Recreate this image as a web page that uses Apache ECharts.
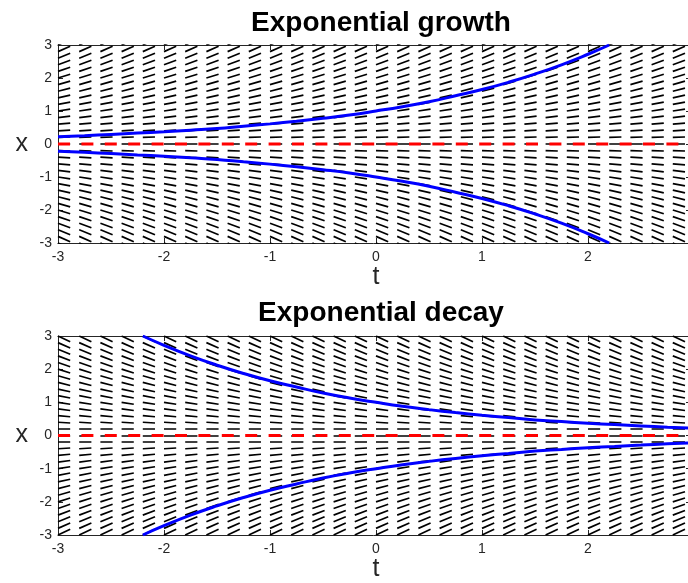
<!DOCTYPE html>
<html>
<head>
<meta charset="utf-8">
<script src="https://cdn.jsdelivr.net/npm/echarts@6/dist/echarts.min.js"></script>
<style>
html, body { margin: 0; padding: 0; background: #fff; }
#chart { width: 688px; height: 583px; }
</style>
</head>
<body>
<div id="chart"></div>
<script>
// slope field grid (t columns, x rows) and the slope of each row
var tGrid = [-3, -2.8, -2.6, -2.4, -2.2, -2, -1.8, -1.6, -1.4, -1.2, -1, -0.8, -0.6, -0.4, -0.2,
  0, 0.2, 0.4, 0.6, 0.8, 1, 1.2, 1.4, 1.6, 1.8, 2, 2.2, 2.4, 2.6, 2.8];
var xGrid = [-3, -2.8, -2.6, -2.4, -2.2, -2, -1.8, -1.6, -1.4, -1.2, -1, -0.8, -0.6, -0.4, -0.2,
  0, 0.2, 0.4, 0.6, 0.8, 1, 1.2, 1.4, 1.6, 1.8, 2, 2.2, 2.4, 2.6, 2.8, 3];
var growthSlopes = [-1.5, -1.4, -1.3, -1.2, -1.1, -1, -0.9, -0.8, -0.7, -0.6, -0.5, -0.4, -0.3, -0.2, -0.1,
  0, 0.1, 0.2, 0.3, 0.4, 0.5, 0.6, 0.7, 0.8, 0.9, 1, 1.1, 1.2, 1.3, 1.4, 1.5];
var decaySlopes = [1.5, 1.4, 1.3, 1.2, 1.1, 1, 0.9, 0.8, 0.7, 0.6, 0.5, 0.4, 0.3, 0.2, 0.1,
  0, -0.1, -0.2, -0.3, -0.4, -0.5, -0.6, -0.7, -0.8, -0.9, -1, -1.1, -1.2, -1.3, -1.4, -1.5];

// solution curves
var growthT = [-3, -2.75, -2.5, -2.25, -2, -1.75, -1.5, -1.25, -1, -0.75, -0.5, -0.25,
  0, 0.25, 0.5, 0.75, 1, 1.25, 1.5, 1.75, 2, 2.2];
var growthUpX = [0.22, 0.25, 0.29, 0.33, 0.37, 0.42, 0.47, 0.54, 0.61, 0.69, 0.78, 0.88,
  1.0, 1.13, 1.28, 1.46, 1.65, 1.87, 2.12, 2.4, 2.72, 3.0];
var growthLowX = [-0.22, -0.25, -0.29, -0.33, -0.37, -0.42, -0.47, -0.54, -0.61, -0.69, -0.78, -0.88,
  -1.0, -1.13, -1.28, -1.46, -1.65, -1.87, -2.12, -2.4, -2.72, -3.0];
var decayT = [-2.2, -2, -1.75, -1.5, -1.25, -1, -0.75, -0.5, -0.25, 0, 0.25, 0.5, 0.75,
  1, 1.25, 1.5, 1.75, 2, 2.25, 2.5, 2.75, 3];
var decayUpX = [3.0, 2.72, 2.4, 2.12, 1.87, 1.65, 1.46, 1.28, 1.13, 1.0, 0.88, 0.78, 0.69,
  0.61, 0.54, 0.47, 0.42, 0.37, 0.33, 0.29, 0.25, 0.22];
var decayLowX = [-3.0, -2.72, -2.4, -2.12, -1.87, -1.65, -1.46, -1.28, -1.13, -1.0, -0.88, -0.78, -0.69,
  -0.61, -0.54, -0.47, -0.42, -0.37, -0.33, -0.29, -0.25, -0.22];

// equilibrium line
var zeroT = [-3, 3];
var zeroX = [0, 0];

var titles = ['Exponential growth', 'Exponential decay'];

var segDt = 0.115; // horizontal length of each slope mark
var axisColor = '#262626';
var font = 'Liberation Sans';

function fieldData(slopes) {
  var d = [];
  tGrid.forEach(function (t) {
    xGrid.forEach(function (x, i) {
      d.push({ coords: [[t, x], [t + segDt, x + segDt * slopes[i]]] });
    });
  });
  return d;
}
function pairs(ts, xs) {
  return ts.map(function (t, i) { return [t, xs[i]]; });
}

// plot boxes run to t = 3 just past the right edge of the page
var grids = [
  { left: 58, top: 45, width: 636, height: 198, outerBoundsMode: 'none', containLabel: false },
  { left: 58, top: 336, width: 636, height: 199, outerBoundsMode: 'none', containLabel: false }
];

var xAxes = [], yAxes = [], series = [];
[0, 1].forEach(function (g) {
  // bottom x axis
  xAxes.push({
    gridIndex: g, type: 'value', min: -3, max: 3, interval: 1, position: 'bottom',
    name: 't', nameLocation: 'middle', nameGap: 12,
    nameTextStyle: { fontFamily: font, fontSize: 25, color: axisColor },
    axisLine: { onZero: false, lineStyle: { color: axisColor, width: 1 } },
    axisTick: { inside: true, length: 5, lineStyle: { color: axisColor } },
    axisLabel: { margin: 7, fontFamily: font, fontSize: 14, color: axisColor },
    splitLine: { show: false }
  });
  // top x axis (box)
  xAxes.push({
    gridIndex: g, type: 'value', min: -3, max: 3, interval: 1, position: 'top',
    axisLine: { onZero: false, lineStyle: { color: axisColor, width: 1 } },
    axisTick: { inside: true, length: 5, lineStyle: { color: axisColor } },
    axisLabel: { show: false }, splitLine: { show: false }
  });
  yAxes.push({
    gridIndex: g, type: 'value', min: -3, max: 3, interval: 1, position: 'left',
    name: 'x', nameLocation: 'middle', nameGap: 30, nameRotate: 0,
    nameTextStyle: { fontFamily: font, fontSize: 25, color: axisColor },
    axisLine: { onZero: false, lineStyle: { color: axisColor, width: 1 } },
    axisTick: { inside: true, length: 5, lineStyle: { color: axisColor } },
    axisLabel: { margin: 6, fontFamily: font, fontSize: 14, color: axisColor },
    splitLine: { show: false }
  });
  yAxes.push({
    gridIndex: g, type: 'value', min: -3, max: 3, interval: 1, position: 'right',
    axisLine: { onZero: false, lineStyle: { color: axisColor, width: 1 } },
    axisTick: { inside: true, length: 8, lineStyle: { color: axisColor } },
    axisLabel: { show: false }, splitLine: { show: false }
  });

  var xi = g * 2, yi = g * 2;
  series.push({
    type: 'lines', coordinateSystem: 'cartesian2d', xAxisIndex: xi, yAxisIndex: yi,
    polyline: false, clip: true, silent: true, z: 1,
    lineStyle: { color: '#000', width: 1.7, opacity: 1 },
    data: fieldData(g === 0 ? growthSlopes : decaySlopes)
  });
  series.push({
    type: 'line', xAxisIndex: xi, yAxisIndex: yi, symbol: 'none', z: 2, clip: true,
    lineStyle: { color: '#ff0000', width: 3, type: [12, 11.4] },
    data: pairs(zeroT, zeroX)
  });
  var ts = g === 0 ? growthT : decayT;
  [g === 0 ? growthUpX : decayUpX, g === 0 ? growthLowX : decayLowX].forEach(function (xs) {
    series.push({
      type: 'line', xAxisIndex: xi, yAxisIndex: yi, symbol: 'none', smooth: true, z: 3, clip: true,
      lineStyle: { color: '#0000ff', width: 3 },
      data: pairs(ts, xs)
    });
  });
});

var chart = echarts.init(document.getElementById('chart'));
chart.setOption({
  animation: false,
  backgroundColor: '#fff',
  title: [
    { text: titles[0], left: 376, top: 4, textAlign: 'center',
      textStyle: { fontFamily: font, fontSize: 28, fontWeight: 'bold', color: '#000' } },
    { text: titles[1], left: 376, top: 294, textAlign: 'center',
      textStyle: { fontFamily: font, fontSize: 28, fontWeight: 'bold', color: '#000' } }
  ],
  grid: grids,
  xAxis: xAxes,
  yAxis: yAxes,
  series: series
});
</script>
</body>
</html>
